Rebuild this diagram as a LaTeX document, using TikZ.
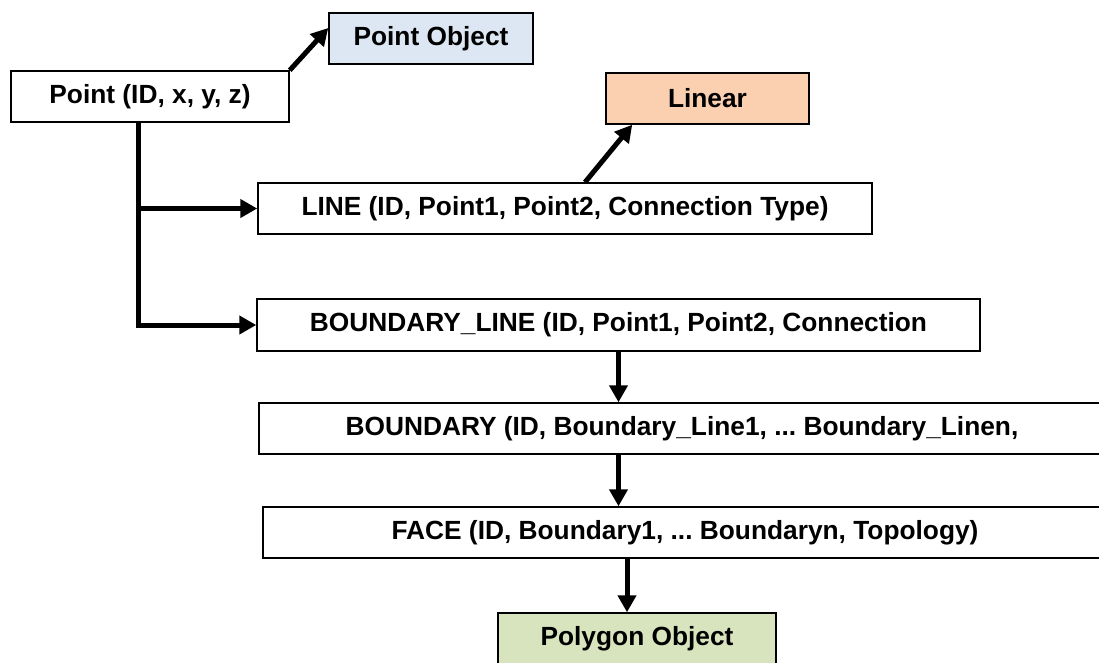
\documentclass[tikz,border=0pt]{standalone}
\usepackage{fontspec}
\setmainfont{Liberation Sans}
\usepackage{tikz}
\usetikzlibrary{shapes.geometric, arrows.meta, positioning}

\definecolor{pointblue}{RGB}{221,230,243}
\definecolor{linearorange}{RGB}{250,208,176}
\definecolor{polygreen}{RGB}{216,228,190}

\frenchspacing

\begin{document}
\begin{tikzpicture}[x=1pt, y=-1pt, every node/.style={font=\bfseries\fontsize{26.3}{31}\selectfont}]

\tikzstyle{box} = [rectangle, minimum height=51pt, inner sep=0pt, text centered, draw=black, line width=1.5pt, fill=white]
\tikzstyle{arrow} = [line width=5pt, -{Triangle[length=17pt, width=18pt]}]

\clip (0,0) rectangle (1099,662);

% Nodes
\node (point) [box, minimum width=278pt] at (150,96.5) {Point (ID, x, y, z)};
\node (pointobj) [box, minimum width=204pt, fill=pointblue] at (431,38.5) {Point Object};
\node (linear) [box, minimum width=203pt, fill=linearorange] at (707.5,98.5) {Linear};
\node (line) [box, minimum width=614pt] at (565,208.5) {LINE (ID, Point1, Point2, Connection Type)};
\node (bline) [box, minimum width=723pt, minimum height=52pt] at (618.5,325) {BOUNDARY\_LINE (ID, Point1, Point2, Connection};
\node (boundary) [box, minimum width=846pt] at (682,428.5) {BOUNDARY (ID, Boundary\_Line1, ... Boundary\_Linen,};
\node (face) [box, minimum width=844pt] at (685,532.5) {FACE (ID, Boundary1, ... Boundaryn, Topology)};
\node (polygon) [box, minimum width=278pt, fill=polygreen] at (637,638.5) {Polygon Object};

\coordinate (trunk) at ([xshift=-12pt]point.south);
\coordinate (drop) at ([xshift=-10pt]polygon.north);

% Arrows
\draw [arrow] (point.north east) -- ([yshift=10.5pt]pointobj.west);
\draw [arrow] ([xshift=20pt]line.north) -- ([xshift=27pt]linear.south west);
\draw [arrow] (trunk) |- (bline.west);
\draw [arrow] (trunk |- line.west) -- (line.west);
\draw [arrow] (bline.south) -- (bline.south |- boundary.north);
\draw [arrow] (bline.south |- boundary.south) -- (bline.south |- face.north);
\draw [arrow] (drop |- face.south) -- (drop);

\end{tikzpicture}
\end{document}
